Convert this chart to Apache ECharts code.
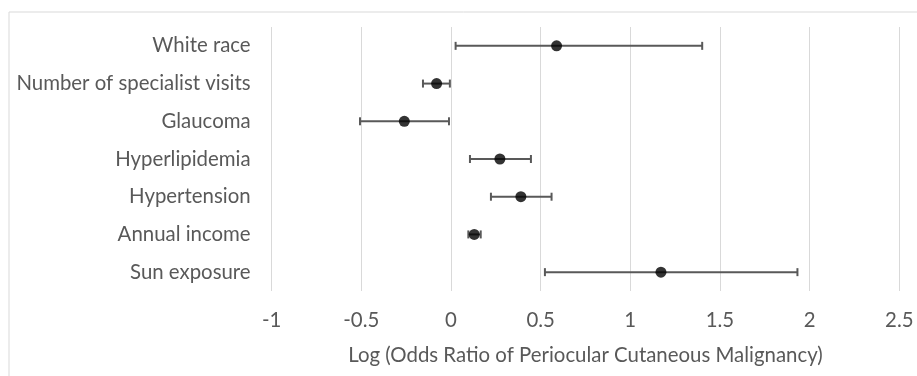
<!DOCTYPE html>
<html>
<head>
<meta charset="utf-8">
<script src="https://cdn.jsdelivr.net/npm/echarts@6/dist/echarts.min.js"></script>
<style>html,body{margin:0;padding:0;background:#fff}#c{width:917px;height:376px}</style>
</head>
<body>
<div id="c"></div>
<script>
var categories = ['White race','Number of specialist visits','Glaucoma','Hyperlipidemia','Hypertension','Annual income','Sun exposure'];
var estimates = [0.589, -0.080, -0.260, 0.273, 0.390, 0.130, 1.171];
var lowerCI   = [0.026, -0.156, -0.507, 0.106, 0.223, 0.097, 0.524];
var upperCI   = [1.401, -0.006, -0.011, 0.446, 0.561, 0.166, 1.932];
var xTicks = [-1, -0.5, 0, 0.5, 1, 1.5, 2, 2.5];
var axisTitle = 'Log (Odds Ratio of Periocular Cutaneous Malignancy)';

var FONT = 'Lato';
var TXT = '#595959';
var chart = echarts.init(document.getElementById('c'));
var errData = categories.map(function(c, i){ return [lowerCI[i], upperCI[i], i]; });
var ptData = categories.map(function(c, i){ return [estimates[i], i]; });

chart.setOption({
  animation: false,
  backgroundColor: '#fff',
  graphic: [{
    type: 'rect', left: 6.5, top: 9.5, z: -10,
    shape: {width: 960, height: 400},
    style: {fill: 'none', stroke: '#d9d9d9', lineWidth: 1}
  }],
  grid: {left: 271.6, right: 17.7, top: 27, bottom: 85},
  xAxis: {
    type: 'value', min: xTicks[0], max: xTicks[xTicks.length-1], interval: 0.5,
    name: axisTitle, nameLocation: 'middle', nameGap: 54,
    nameTextStyle: {color: TXT, fontFamily: FONT, fontSize: 20.4},
    axisLine: {show: false}, axisTick: {show: false},
    axisLabel: {color: TXT, fontFamily: FONT, fontSize: 20.4, margin: 19},
    splitLine: {show: true, lineStyle: {color: '#d9d9d9', width: 1}}
  },
  yAxis: {
    type: 'category', data: categories, inverse: true,
    axisLine: {show: false}, axisTick: {show: false},
    axisLabel: {color: TXT, fontFamily: FONT, fontSize: 20.4, margin: 21},
    splitLine: {show: false}
  },
  series: [{
    type: 'custom',
    data: errData,
    encode: {x: [0, 1], y: 2},
    renderItem: function(params, api){
      var p1 = api.coord([api.value(0), api.value(2)]);
      var p2 = api.coord([api.value(1), api.value(2)]);
      var h = 4;
      var st = {stroke: '#595959', lineWidth: 2, fill: 'none'};
      return {type: 'group', children: [
        {type: 'line', shape: {x1: p1[0], y1: p1[1], x2: p2[0], y2: p2[1]}, style: st},
        {type: 'line', shape: {x1: p1[0], y1: p1[1]-h, x2: p1[0], y2: p1[1]+h}, style: st},
        {type: 'line', shape: {x1: p2[0], y1: p2[1]-h, x2: p2[0], y2: p2[1]+h}, style: st}
      ]};
    },
    z: 2
  }, {
    type: 'scatter',
    data: ptData,
    symbol: 'circle', symbolSize: 11,
    itemStyle: {color: '#000'},
    z: 3
  }]
});
</script>
</body>
</html>
